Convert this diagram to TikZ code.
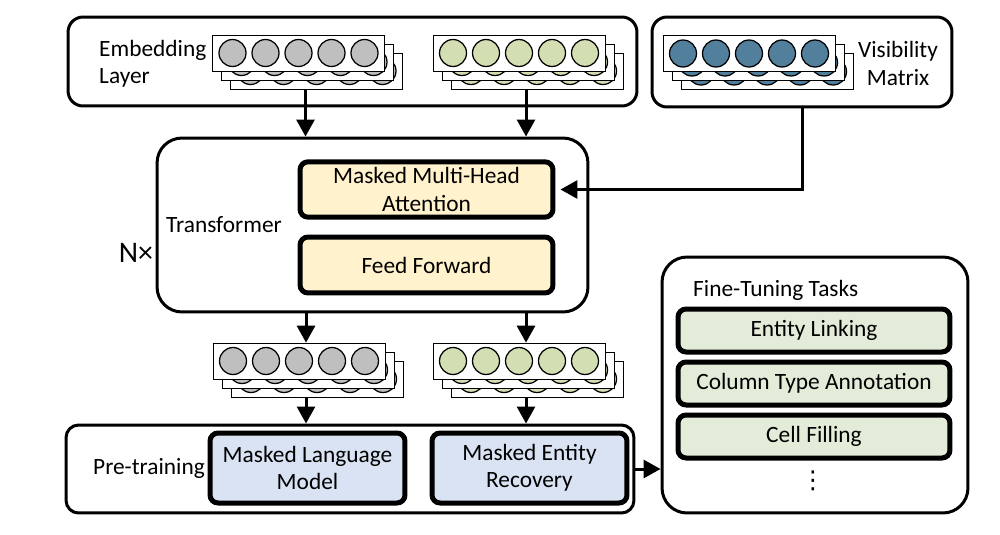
\documentclass[tikz,border=0pt]{standalone}
\usepackage{fontspec}
\setmainfont{Carlito}
\newfontfamily\symfont{DejaVu Sans}
\usetikzlibrary{arrows.meta,fit}
\definecolor{dotgrey}{HTML}{BFBFBF}
\definecolor{dotgreen}{HTML}{D3DEB3}
\definecolor{dotblue}{HTML}{517F9C}
\definecolor{attnfill}{HTML}{FFF2CC}
\definecolor{prefill}{HTML}{DAE3F3}
\definecolor{taskfill}{HTML}{E3ECD8}
% stack of three vector layers: name, centre of front layer (x,y), fill
\newcommand{\vecstack}[4]{%
  \foreach \k in {2,1,0}{
    \draw[layer] ({#2-86+9*\k},{#3-18+9*\k}) rectangle ({#2+86+9*\k},{#3+18+9*\k});
    \foreach \c in {-2,...,2}
      \draw[dot,fill=#4] ({#2+33*\c+9*\k},{#3+9*\k}) circle[radius=2.7mm];
  }
  \node[inner sep=0,fit={(#2-86,#3-18) (#2+100,#3+36)}] (#1) {};
}

\begin{document}
\begin{tikzpicture}[x=0.02cm,y=-0.02cm,>={Triangle[length=3.4mm,width=3.6mm]},
  font=\fontsize{13.3pt}{15.5pt}\selectfont,
  panel/.style={draw,line width=0.6mm,fill=white},
  block/.style={draw,line width=1mm,rounded corners=1.6mm,align=center},
  layer/.style={draw,fill=white,line width=0.2mm},
  dot/.style={draw,line width=0.25mm},
  arr/.style={->,line width=0.6mm}]
  \useasboundingbox (0,0) rectangle (1000,534);
  % panels
  \node[panel,rounded corners=3mm,minimum width=113.8mm,minimum height=17.8mm] (embed) at (352.5,61.5) {};
  \node[panel,rounded corners=3mm,minimum width=60mm,minimum height=18mm] (vis) at (802,62) {};
  \node[panel,rounded corners=5mm,minimum width=86.2mm,minimum height=34.8mm] (trans) at (372.5,225) {};
  \node[panel,rounded corners=2.5mm,minimum width=113.6mm,minimum height=17.6mm] (pre) at (350,469) {};
  \node[panel,rounded corners=5mm,minimum width=61.2mm,minimum height=51.2mm] (ft) at (815,385) {};
  % labels
  \node[anchor=west,align=left] (embedlab) at (93,63.5) {Embedding\\Layer};
  \node[align=center] (vislab) at (898,63.5) {Visibility\\Matrix};
  \node (translab) at (224,225) {Transformer};
  \node[font=\fontsize{17pt}{20pt}\selectfont] (nx) at (136,253) {N×};
  \node (prelab) at (149,468) {Pre-training};
  \node[anchor=west] (ftlab) at (687,290) {Fine-Tuning Tasks};
  % vector stacks
  \vecstack{embG}{298.5}{53}{dotgrey}
  \vecstack{embE}{519}{53}{dotgreen}
  \vecstack{visM}{749}{53.5}{dotblue}
  \vecstack{outG}{299}{361}{dotgrey}
  \vecstack{outE}{519}{361}{dotgreen}
  % transformer blocks
  \node[block,fill=attnfill,minimum width=50.6mm,minimum height=11mm] (mmha) at (426.5,189.5) {Masked Multi-Head\\Attention};
  \node[block,fill=attnfill,minimum width=50.6mm,minimum height=11.2mm] (ff) at (426.5,265) {Feed Forward};
  % pre-training objectives
  \node[block,fill=prefill,minimum width=39mm,minimum height=14mm] (mlm) at (307.5,468) {Masked Language\\Model};
  \node[block,fill=prefill,minimum width=39mm,minimum height=14mm] (mer) at (529.5,468) {Masked Entity\\Recovery};
  % fine-tuning tasks
  \foreach \t/\y/\n in {Entity Linking/330.5/el, Column Type Annotation/383.5/cta, Cell Filling/436.5/cf}
    \node[block,fill=taskfill,minimum width=54.4mm,minimum height=8.6mm] (\n) at (814,\y) {\t};
  \node[font=\symfont\fontsize{14pt}{16pt}\selectfont] (more) at (813,481) {⋮};
  % arrows
  \draw[arr] (embG.south) -- (embG.south |- trans.north);
  \draw[arr] (embE.south) -- (embE.south |- trans.north);
  \draw[arr,shorten >=1mm] (vis.south) |- (mmha.east);
  \draw[arr] (trans.south -| outG.north) -- (outG.north);
  \draw[arr] (trans.south -| outE.north) -- (outE.north);
  \draw[arr] (outG.south) -- (outG.south |- pre.north);
  \draw[arr] (outE.south) -- (outE.south |- pre.north);
  \draw[arr] (pre.east) -- (pre.east -| ft.west);
\end{tikzpicture}
\end{document}
